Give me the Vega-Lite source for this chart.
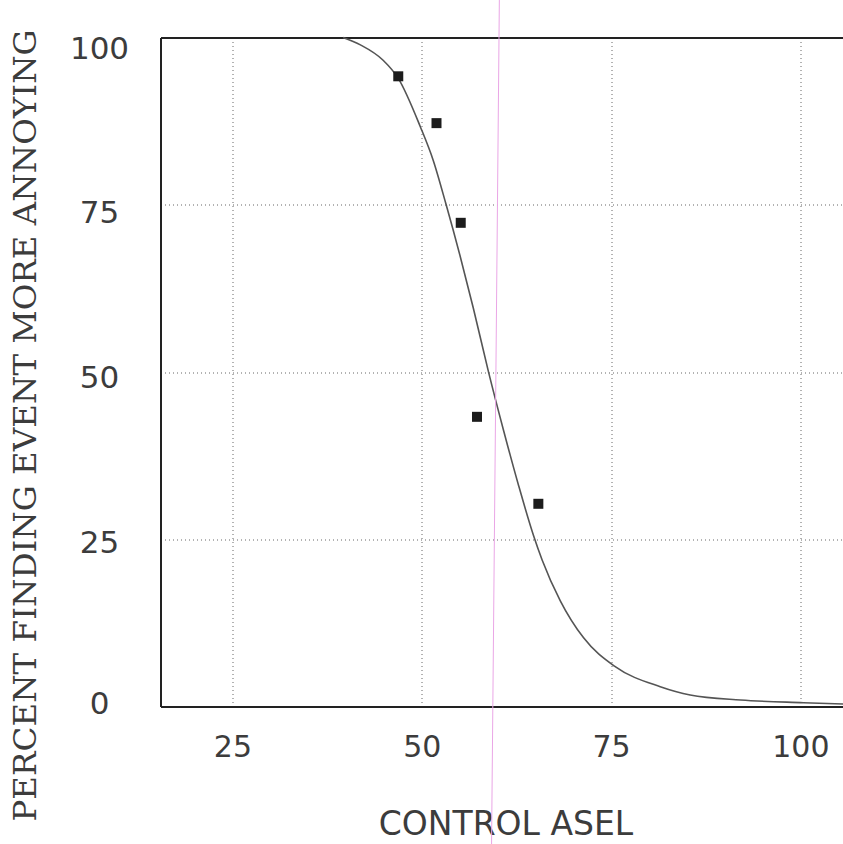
{
  "$schema": "https://vega.github.io/schema/vega-lite/v6.json",
  "width": 683,
  "height": 669,
  "autosize": {"type": "none"},
  "padding": {"left": 160.5, "top": 37.5, "right": 0, "bottom": 137.5},
  "background": "white",
  "config": {"view": {"stroke": null}},
  "datasets": {
    "curve": [
      {"asel": 39.6, "pct": 100},
      {"asel": 41.9, "pct": 98.9},
      {"asel": 44.9, "pct": 96.6},
      {"asel": 46.9, "pct": 93.9},
      {"asel": 49.8, "pct": 86.7},
      {"asel": 51.5, "pct": 81.7},
      {"asel": 53.2, "pct": 75.1},
      {"asel": 55.1, "pct": 67.2},
      {"asel": 56.8, "pct": 59.6},
      {"asel": 58.8, "pct": 50.1},
      {"asel": 60.8, "pct": 41.3},
      {"asel": 62.8, "pct": 33.0},
      {"asel": 64.75, "pct": 25.6},
      {"asel": 65.9, "pct": 21.9},
      {"asel": 68.3, "pct": 15.8},
      {"asel": 71.35, "pct": 10.3},
      {"asel": 75.5, "pct": 6.0},
      {"asel": 81.5, "pct": 2.96},
      {"asel": 85.45, "pct": 1.72},
      {"asel": 92.1, "pct": 0.97},
      {"asel": 100.4, "pct": 0.57},
      {"asel": 105.7, "pct": 0.37}
    ],
    "observed": [
      {"asel": 46.9, "pct": 94.2},
      {"asel": 51.95, "pct": 87.2},
      {"asel": 55.15, "pct": 72.3},
      {"asel": 57.3, "pct": 43.3},
      {"asel": 65.4, "pct": 30.3}
    ],
    "streak": [
      {"x0": 60.25, "x1": 59.22, "y0": 105.6, "y1": -20.6}
    ]
  },
  "layer": [
    {
      "data": {"name": "curve"},
      "mark": {"type": "line", "interpolate": "monotone", "color": "#555555", "strokeWidth": 1.6},
      "encoding": {
        "x": {
          "field": "asel",
          "type": "quantitative",
          "scale": {"domain": [15.5, 105.7], "nice": false, "zero": false},
          "axis": {
            "title": "CONTROL ASEL",
            "values": [25, 50, 75, 100],
            "grid": true,
            "gridDash": [1, 3],
            "gridColor": "#666666",
            "gridWidth": 1,
            "ticks": false,
            "domainColor": "#222222",
            "domainWidth": 2,
            "labelFont": "DejaVu Sans",
            "labelFontSize": 30,
            "labelColor": "#3c3c3c",
            "labelPadding": 26,
            "labelFlush": false,
            "titleFont": "DejaVu Sans",
            "titleFontSize": 33,
            "titleFontWeight": "normal",
            "titleColor": "#3c3c3c",
            "titleBaseline": "top",
            "titleY": 102,
            "titleX": 345
          }
        },
        "y": {
          "field": "pct",
          "type": "quantitative",
          "scale": {"domain": [0, 100], "nice": false},
          "axis": {
            "title": "PERCENT FINDING EVENT MORE ANNOYING",
            "values": [0, 25, 50, 75, 100],
            "grid": true,
            "gridDash": {"condition": {"test": "datum.value === 100", "value": []}, "value": [1, 3]},
            "gridColor": {"condition": {"test": "datum.value === 100", "value": "#222222"}, "value": "#666666"},
            "gridWidth": {"condition": {"test": "datum.value === 100", "value": 2}, "value": 1},
            "ticks": false,
            "domainColor": "#222222",
            "domainWidth": 2,
            "labelFont": "DejaVu Sans",
            "labelFontSize": 31,
            "labelColor": "#3c3c3c",
            "labelAlign": "center",
            "labelBaseline": "middle",
            "labelPadding": 61.5,
            "labelOffset": {
              "condition": [
                {"test": "datum.value === 100", "value": 12},
                {"test": "datum.value === 75", "value": 9},
                {"test": "datum.value === 50", "value": 6},
                {"test": "datum.value === 25", "value": 4}
              ],
              "value": -2
            },
            "labelFlush": false,
            "titleFont": "DejaVu Serif",
            "titleFontSize": 32.5,
            "titleFontWeight": "normal",
            "titleColor": "#3c3c3c",
            "titleAngle": 270,
            "titleAlign": "center",
            "titleBaseline": "alphabetic",
            "titleX": -125.5,
            "titleY": 387.5
          }
        }
      }
    },
    {
      "data": {"name": "observed"},
      "mark": {"type": "square", "size": 100, "filled": true, "color": "#1c1c1c", "opacity": 1},
      "encoding": {
        "x": {"field": "asel", "type": "quantitative"},
        "y": {"field": "pct", "type": "quantitative"}
      }
    },
    {
      "data": {"name": "streak"},
      "mark": {"type": "rule", "color": "#eaa6e6", "strokeWidth": 1, "clip": false},
      "encoding": {
        "x": {"field": "x0", "type": "quantitative"},
        "x2": {"field": "x1"},
        "y": {"field": "y0", "type": "quantitative"},
        "y2": {"field": "y1"}
      }
    }
  ]
}
